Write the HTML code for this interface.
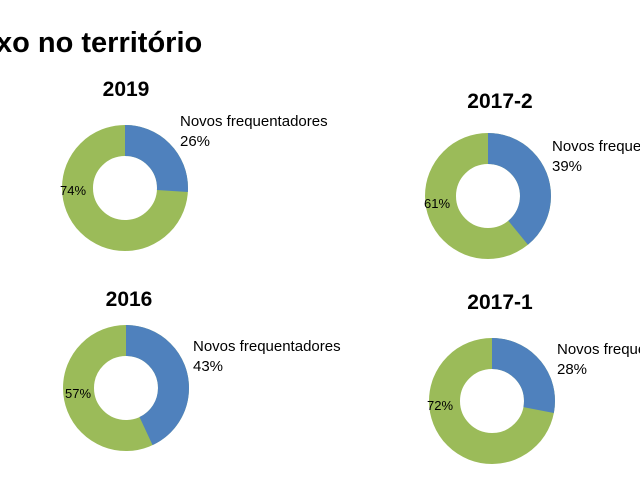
<!DOCTYPE html>
<html><head><meta charset="utf-8"><style>
body{margin:0;width:640px;height:480px;background:#fff;overflow:hidden;font-family:"Liberation Sans",sans-serif;}
svg{position:absolute;left:0;top:0}
</style></head><body>
<svg width="640" height="480" xmlns="http://www.w3.org/2000/svg" font-family="Liberation Sans, sans-serif">
<text x="-4" y="52" font-size="29" font-weight="bold" fill="#000">xo no território</text>

<g font-size="21" font-weight="bold" text-anchor="middle" fill="#000">
<text x="126" y="96">2019</text>
<text x="500" y="108">2017-2</text>
<text x="129" y="306">2016</text>
<text x="500" y="309">2017-1</text>
</g>

<g fill="none" stroke-width="31">
<g transform="translate(125,188) rotate(-90)">
<circle r="47.5" stroke="#9bbb59"/>
<circle r="47.5" stroke="#4f81bd" stroke-dasharray="77.6 298.45"/>
</g>
<g transform="translate(488,196) rotate(-90)">
<circle r="47.5" stroke="#9bbb59"/>
<circle r="47.5" stroke="#4f81bd" stroke-dasharray="116.4 298.45"/>
</g>
<g transform="translate(126,388) rotate(-90)">
<circle r="47.5" stroke="#9bbb59"/>
<circle r="47.5" stroke="#4f81bd" stroke-dasharray="128.3 298.45"/>
</g>
<g transform="translate(492,401) rotate(-90)">
<circle r="47.5" stroke="#9bbb59"/>
<circle r="47.5" stroke="#4f81bd" stroke-dasharray="83.6 298.45"/>
</g>
</g>

<g font-size="15" fill="#000">
<text x="180" y="126">Novos frequentadores</text>
<text x="180" y="146">26%</text>
<text x="552" y="151">Novos frequentadores</text>
<text x="552" y="171">39%</text>
<text x="193" y="351">Novos frequentadores</text>
<text x="193" y="371">43%</text>
<text x="557" y="354">Novos frequentadores</text>
<text x="557" y="374">28%</text>
</g>
<g font-size="13" fill="#000">
<text x="60" y="195">74%</text>
<text x="424" y="208">61%</text>
<text x="65" y="398">57%</text>
<text x="427" y="410">72%</text>
</g>
</svg>
</body></html>
